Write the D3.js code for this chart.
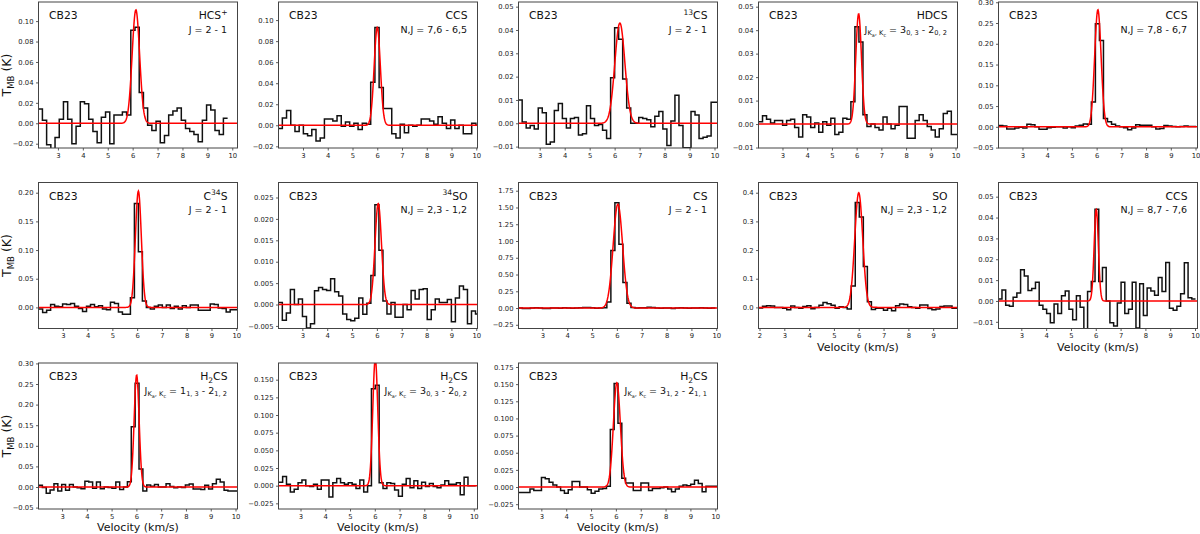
<!DOCTYPE html>
<html><head><meta charset="utf-8">
<script src="https://cdn.jsdelivr.net/npm/d3@7"></script>
<style>body{margin:0;background:#fff}text{font-family:"DejaVu Sans",sans-serif}</style>
</head><body><svg id="c" width="1200" height="534"></svg>
<script>
// ---- spectra (T_MB in K per channel) ----
const hcspVals = [0.014,0.003,-0.021,-0.025,-0.014,0.004,0.021,0.004,-0.020,-0.003,0.021,0.019,0.004,-0.008,-0.019,0.006,0.011,-0.020,0.008,0.008,0.011,0.008,
 0.091,0.094,0.030,0.015,-0.002,-0.007,0.002,-0.019,-0.012,0.008,0.012,0.015,0.003,-0.005,-0.008,-0.011,-0.018,0.003,0.018,0.013,-0.007,-0.011,0.005];
const ccs76Vals = [-0.003,0.007,0.014,0.000,-0.006,0.000,-0.008,-0.010,-0.004,-0.015,-0.012,0.006,0.006,0.004,0.009,-0.001,0.003,-0.001,0.002,-0.004,0.002,0.001,0.041,
 0.093,0.036,0.016,0.016,-0.008,-0.012,0.001,-0.007,0.000,-0.001,0.000,0.006,0.006,0.004,0.001,0.008,0.002,-0.003,0.005,-0.003,0.000,-0.008,-0.008,0.002,0.000];
const cs13Vals = [0.010,0.0005,-0.002,-0.001,-0.0025,0.0065,0.0045,-0.009,-0.008,0.0055,0.0085,0.002,-0.002,0.002,0.0025,-0.005,-0.0045,0.0075,0.002,-0.001,-0.0005,-0.003,-0.0065,0.0195,
 0.041,0.036,0.019,0.0065,0.000,0.000,0.0025,0.002,0.0015,-0.0015,0.003,0.005,-0.0025,-0.0095,0.001,0.012,-0.001,-0.0105,-0.0105,0.005,0.0035,-0.0065,-0.006,-0.0055,0.009,0.009];
const hdcsVals = [0.001,0.0035,0.002,0.0005,0.0015,0.0015,-0.0005,0.0015,0.002,-0.0015,-0.0055,0.004,0.003,-0.0015,0.0005,-0.0035,0.001,-0.0005,0.0025,-0.0045,-0.0035,0.0025,0.002,0.0095,
 0.0415,0.035,0.004,-0.001,0.000,-0.0015,-0.0025,0.003,0.000,-0.002,-0.0005,0.0075,0.0075,-0.006,-0.006,0.0015,0.004,0.0015,-0.001,-0.0025,-0.0055,-0.002,0.0045,0.0055,-0.0045,-0.0045];
const ccs78Vals = [0.003,0.002,-0.005,-0.005,-0.003,-0.001,-0.003,0.006,0.005,0.000,-0.006,-0.006,-0.002,-0.001,0.000,0.000,-0.003,0.000,-0.002,0.002,0.004,0.007,0.006,0.060,
 0.248,0.208,0.020,0.012,0.006,0.002,0.000,-0.002,-0.007,-0.003,0.005,0.004,0.004,0.004,0.000,-0.005,-0.004,0.003,0.002,0.001,0.000,0.001,0.002,0.001,0.001];
const c34sVals = [-0.003,-0.009,-0.005,0.005,0.002,0.001,0.006,0.005,0.007,0.002,-0.002,-0.007,0.002,0.005,0.001,0.003,-0.003,-0.004,0.009,0.007,-0.008,-0.012,-0.012,0.017,
 0.181,0.097,0.011,0.000,-0.003,0.002,0.004,0.000,0.004,-0.002,0.002,-0.003,0.003,0.000,0.004,0.004,-0.005,-0.005,-0.005,0.006,0.005,-0.001,-0.002,-0.008,-0.004,-0.004];
const so34Vals = [0.0005,-0.0037,-0.002,0.0035,0.000,0.0013,-0.0028,-0.0055,-0.0045,0.0032,0.004,0.0035,0.0033,0.006,0.003,0.002,-0.0022,-0.0035,-0.0038,-0.0032,0.0015,-0.0023,0.0003,0.0068,
 0.0233,0.0127,0.0008,-0.0022,0.0005,-0.003,-0.003,0.000,-0.0012,0.0033,0.0013,0.0035,0.0037,-0.0035,-0.0012,0.0013,0.0005,0.0005,0.0012,-0.004,0.0015,0.0043,0.0035,-0.0045,-0.0015,-0.0022];
const csVals = [0.000,-0.005,-0.005,0.000,0.003,0.000,-0.008,-0.005,0.002,0.000,-0.004,0.004,0.000,-0.003,0.002,0.005,0.010,0.008,0.004,-0.002,0.000,0.003,0.090,0.860,
 1.570,0.950,0.380,0.070,0.010,0.000,0.003,0.005,0.012,0.008,0.000,-0.004,0.002,0.000,-0.008,0.000,0.003,0.000,-0.002,0.002,0.000,0.004,0.000,-0.003,0.000];
const soVals = [-0.002,0.004,0.006,0.005,0.000,0.000,-0.003,-0.008,0.005,0.000,-0.003,0.003,0.006,-0.005,0.000,0.007,0.017,0.013,0.007,-0.003,0.002,0.000,-0.006,0.075,
 0.366,0.315,0.143,0.020,-0.007,-0.003,-0.003,-0.010,-0.003,-0.012,0.006,0.012,0.010,0.002,0.000,-0.003,0.008,0.008,-0.004,-0.008,-0.006,0.003,0.005,0.005,-0.003,-0.003];
const ccs87Vals = [0.001,0.0053,-0.002,-0.0025,0.0018,0.0038,0.015,0.012,0.005,0.006,0.009,-0.002,-0.004,-0.006,-0.0105,-0.0015,-0.006,0.0025,0.0048,-0.004,-0.009,0.0025,-0.003,-0.014,0.0045,0.0093,
 0.044,0.0093,0.016,0.000,-0.0105,-0.012,-0.001,0.009,-0.006,-0.004,0.009,-0.013,0.0083,-0.007,0.0062,0.0048,0.0028,0.0112,0.0045,0.0185,-0.0035,-0.0045,-0.0025,0.0035,0.0183,0.0015,0.001];
const h2cs1Vals = [0.004,-0.001,-0.015,-0.007,0.008,-0.010,0.006,-0.008,0.006,0.000,-0.002,-0.004,0.014,0.012,-0.003,0.012,-0.004,0.000,-0.001,-0.003,0.012,-0.006,0.000,0.013,0.146,
 0.252,0.044,-0.010,0.005,0.002,0.006,0.000,0.000,0.008,0.001,-0.002,0.000,-0.001,0.005,0.007,-0.005,-0.005,-0.006,0.004,-0.005,0.008,0.019,0.012,-0.008,-0.010,-0.010,-0.010];
const h2cs2Vals = [0.005,0.013,0.002,-0.009,-0.005,0.004,0.008,0.000,-0.001,0.002,-0.005,0.008,0.008,-0.016,0.004,0.010,0.004,0.002,0.004,0.002,-0.004,0.008,-0.009,0.000,
 0.137,0.142,0.004,-0.004,0.004,0.003,-0.006,-0.015,0.002,0.010,-0.003,0.007,-0.004,0.005,-0.001,0.003,-0.001,-0.003,0.001,0.007,0.002,0.002,0.004,-0.013,0.012,0.000,0.000];
const h2cs3Vals = [-0.008,-0.008,-0.008,-0.003,-0.005,-0.005,0.014,0.012,0.007,0.003,0.000,-0.005,-0.009,-0.004,0.008,0.008,0.000,0.000,-0.004,-0.009,-0.006,-0.003,-0.002,0.001,0.084,
 0.151,0.093,0.013,0.006,0.006,-0.005,-0.005,0.006,0.006,-0.005,-0.002,-0.002,-0.001,0.000,-0.003,-0.007,-0.003,0.001,0.003,0.002,0.004,0.010,0.005,-0.007,0.001,0.001,0.001];

// first channel edge and channel width (km/s), per panel
const channelStart = [2.208,1.995,2.136,2.03,2.038,2.026,2.032,2.032,1.96,2.07,2.05,2.121,2.08];
const channelWidth = [0.169,0.17,0.161,0.1625,0.163,0.161,0.162,0.162,0.1625,0.15,0.156,0.156,0.154];
// Gaussian fits
const fitCenter = [6.13,6.0,6.21,6.08,6.05,6.05,6.055,6.04,6.0,6.02,6.01,6.02,6.04];
const fitAmp    = [0.111,0.093,0.043,0.047,0.282,0.203,0.0236,1.55,0.40,0.044,0.272,0.18,0.152];
const fitSigma  = [0.15,0.125,0.2,0.115,0.13,0.12,0.13,0.19,0.16,0.085,0.1,0.1,0.14];
// axis limits
const xLimits = [[2.22,10.21],[2.01,10.05],[2.15,10.12],[2.03,10.08],[2.03,10.08],[2.02,10.05],[2.04,10.05],[2.04,10.05],[1.96,9.98],[2.08,10.1],[2.05,10.08],[2.11,10.15],[2.08,10.09]];
const yLimits = [[-0.0242,0.1187],[-0.0216,0.1172],[-0.0106,0.052],[-0.0102,0.052],[-0.051,0.3006],[-0.0368,0.2178],[-0.0056,0.0285],[-0.305,1.8725],[-0.0737,0.4357],[-0.0132,0.0568],[-0.0534,0.301],[-0.033,0.1736],[-0.032,0.1808]];
const yTickStep = [0.02,0.02,0.01,0.01,0.05,0.05,0.005,0.25,0.1,0.01,0.05,0.025,0.025];
const yTickDecimals = [2,2,2,2,2,2,3,2,1,2,2,3,3];
const xTickValues = [3,4,5,6,7,8,9,10];
const xTickValuesSO = [2,3,4,5,6,7,8,9];
// labels: [text, level] level -1 sup, 0 normal, 1 sub, 2 sub-sub
const moleculeLabels = [
 [["HCS",0],["+",-1]], [["CCS",0]], [["13",-1],["CS",0]], [["HDCS",0]], [["CCS",0]],
 [["C",0],["34",-1],["S",0]], [["34",-1],["SO",0]], [["CS",0]], [["SO",0]], [["CCS",0]],
 [["H",0],["2",1],["CS",0]], [["H",0],["2",1],["CS",0]], [["H",0],["2",1],["CS",0]]];
const kaKc = [["J",0],["K",1],["a",2],[", K",1],["c",2]];
const transitionLabels = [
 [["J = 2 - 1",0]], [["N,J = 7,6 - 6,5",0]], [["J = 2 - 1",0]],
 kaKc.concat([[" = 3",0],["0, 3",1],[" - 2",0],["0, 2",1]]),
 [["N,J = 7,8 - 6,7",0]], [["J = 2 - 1",0]], [["N,J = 2,3 - 1,2",0]], [["J = 2 - 1",0]],
 [["N,J = 2,3 - 1,2",0]], [["N,J = 8,7 - 7,6",0]],
 kaKc.concat([[" = 1",0],["1, 3",1],[" - 2",0],["1, 2",1]]),
 kaKc.concat([[" = 3",0],["0, 3",1],[" - 2",0],["0, 2",1]]),
 kaKc.concat([[" = 3",0],["1, 2",1],[" - 2",0],["1, 1",1]])];
const sourceName = "CB23";
const spectra = [hcspVals,ccs76Vals,cs13Vals,hdcsVals,ccs78Vals,c34sVals,so34Vals,csVals,soVals,ccs87Vals,h2cs1Vals,h2cs2Vals,h2cs3Vals];
const showXLabel = [false,false,false,false,false,false,false,false,true,true,true,true,true];

// ---- drawing ----
const svg = d3.select("#c");
const W = 199, H = 146;
const shift = {"-1":-4.2, "0":0, "1":2.6, "2":4.0};
const scaleF = {"-1":0.7, "0":1, "1":0.7, "2":0.52};
function rich(g, x, y, anchor, segs, size){
  const t = g.append("text").attr("x",x).attr("y",y).attr("text-anchor",anchor)
    .attr("font-size",size).attr("fill","#111");
  let cur = 0;
  segs.forEach(([s,l])=>{
    const target = shift[l];
    t.append("tspan").attr("dy", target-cur).attr("font-size", size*scaleF[l]).text(s);
    cur = target;
  });
  return t;
}
const minus = s => s.replace(/-/g,"\u2212");

spectra.forEach((vals, p)=>{
  const col = p % 5, row = Math.floor(p/5);
  const left = 38.5 + 240*col, top = 2 + 180.5*row;
  const g = svg.append("g").attr("transform",`translate(${left},${top})`);
  const x = d3.scaleLinear().domain(xLimits[p]).range([0,W]);
  const y = d3.scaleLinear().domain(yLimits[p]).range([H,0]);
  const cid = "clip"+p;
  g.append("clipPath").attr("id",cid).append("rect").attr("width",W).attr("height",H);
  const plot = g.append("g").attr("clip-path",`url(#${cid})`);
  const pts = vals.map((v,i)=>[channelStart[p]+i*channelWidth[p], v]);
  pts.push([channelStart[p]+vals.length*channelWidth[p], vals[vals.length-1]]);
  plot.append("path").datum(pts)
    .attr("d", d3.line().x(d=>x(d[0])).y(d=>y(d[1])).curve(d3.curveStepAfter))
    .attr("fill","none").attr("stroke","#111").attr("stroke-width",1.5);
  const gx = d3.range(0,501).map(i=>xLimits[p][0] + i*(xLimits[p][1]-xLimits[p][0])/500);
  const fit = gx.map(v=>[v, fitAmp[p]*Math.exp(-0.5*Math.pow((v-fitCenter[p])/fitSigma[p],2))]);
  plot.append("path").datum(fit)
    .attr("d", d3.line().x(d=>x(d[0])).y(d=>y(d[1])))
    .attr("fill","none").attr("stroke","#ff0000").attr("stroke-width",1.5);
  // axes
  const yt = [];
  const st = yTickStep[p];
  for(let k=Math.ceil(yLimits[p][0]/st - 1e-6); k*st <= yLimits[p][1]+1e-9; k++) yt.push(+(k*st).toFixed(6));
  const ya = d3.axisLeft(y).tickValues(yt).tickSize(2.5).tickPadding(2.5)
    .tickFormat(d=>minus(d3.format("."+yTickDecimals[p]+"f")(d)));
  const xa = d3.axisBottom(x).tickValues(p===8?xTickValuesSO:xTickValues).tickSize(2.5).tickPadding(2.5)
    .tickFormat(d3.format("d"));
  const ay = g.append("g").call(ya);
  const ax = g.append("g").attr("transform",`translate(0,${H})`).call(xa);
  [ay,ax].forEach(a=>{
    a.select(".domain").remove();
    a.selectAll("line").attr("stroke","#333").attr("stroke-width",0.8);
    a.selectAll("text").attr("font-size",6.8).attr("fill","#222").attr("font-family","DejaVu Sans");
  });
  g.append("rect").attr("width",W).attr("height",H).attr("fill","none")
    .attr("stroke","#444").attr("stroke-width",1);
  // labels
  g.append("text").attr("x",10.5).attr("y",17).attr("font-size",10.8).attr("fill","#111").text(sourceName);
  rich(g, W-10, 17, "end", moleculeLabels[p], 10.8);
  rich(g, W-10.5, 30.5, "end", transitionLabels[p], 9.5);
  if(col===0){
    const yl = svg.append("text").attr("transform",`translate(11,${top+H/2}) rotate(-90)`)
      .attr("text-anchor","middle").attr("font-size",12.5).attr("fill","#111");
    yl.append("tspan").text("T");
    yl.append("tspan").attr("dy",3).attr("font-size",8.5).text("MB");
    yl.append("tspan").attr("dy",-3).text(" (K)");
  }
  if(showXLabel[p]){
    svg.append("text").attr("x",left+W/2).attr("y",top+H+22).attr("text-anchor","middle")
      .attr("font-size",11).attr("fill","#111").text("Velocity (km/s)");
  }
});
</script></body></html>
